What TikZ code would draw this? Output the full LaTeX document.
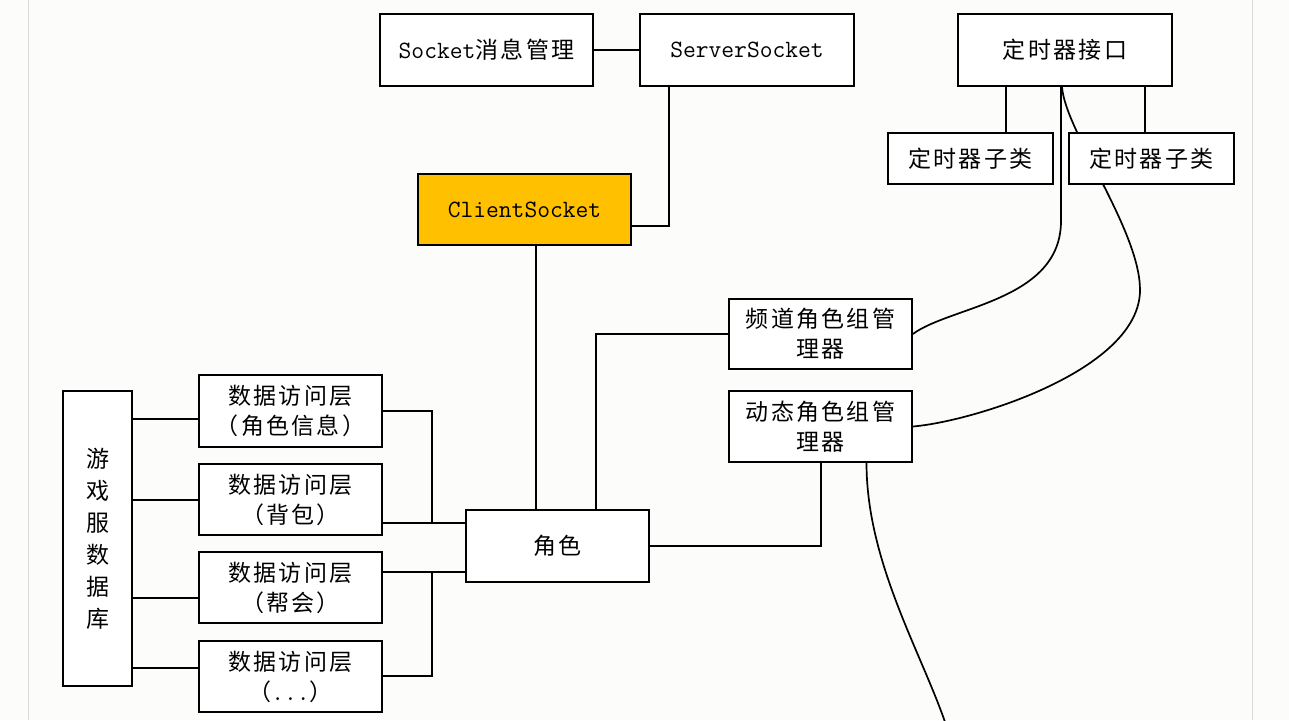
\documentclass[tikz,border=0pt]{standalone}
\usepackage{fontspec}
\setmainfont{Noto Sans CJK SC}[LetterSpace=10]
\setmonofont{Latin Modern Mono}[Scale=1.08]
\usetikzlibrary{backgrounds}
\definecolor{pagebg}{RGB}{252,252,250}
\definecolor{gold}{RGB}{255,192,0}
\begin{document}
\begin{tikzpicture}[x=1pt,y=-1pt,
    box/.style={draw,line width=1.7pt,fill=white,inner sep=0pt,align=center,
      font=\fontsize{23}{30}\selectfont},
    link/.style={line width=1.7pt}]
          \useasboundingbox (0,0) rectangle (1289,720);
          \node[box,minimum width=213pt,minimum height=72pt] (sm) at (486.5,50) {{\ttfamily Socket}消息管理};
          \node[box,minimum width=214pt,minimum height=72pt] (ss) at (747,50) {\ttfamily ServerSocket};
          \node[box,fill=gold,minimum width=213pt,minimum height=71pt] (cs) at (524.5,209.5) {\ttfamily ClientSocket};
          \node[box,minimum width=214pt,minimum height=72pt] (ti) at (1065,50) {定时器接口};
          \node[box,minimum width=165pt,minimum height=51pt] (t1) at (970.5,158.5) {定时器子类};
          \node[box,minimum width=165pt,minimum height=51pt] (t2) at (1151.5,158.5) {定时器子类};
          \node[box,minimum width=183pt,minimum height=70pt] (pd) at (820.5,334) {频道角色组管\\理器};
          \node[box,minimum width=183pt,minimum height=71pt] (dt) at (820.5,426.5) {动态角色组管\\理器};
          \node[box,minimum width=183pt,minimum height=72pt] (js) at (557.5,546) {角色};
          \node[box,minimum width=69pt,minimum height=295pt,font=\fontsize{23}{32}\selectfont] (db) at (97.5,538.5) {游\\戏\\服\\数\\据\\库};
          \node[box,minimum width=183pt,minimum height=72pt] (d1) at (290.5,411) {数据访问层\\（角色信息）};
          \node[box,minimum width=183pt,minimum height=71pt] (d2) at (290.5,499.5) {数据访问层\\（背包）};
          \node[box,minimum width=183pt,minimum height=71pt] (d3) at (290.5,587.5) {数据访问层\\（帮会）};
          \node[box,minimum width=183pt,minimum height=71pt] (d4) at (290.5,676.5) {数据访问层\\（{\ttfamily...}）};
          \coordinate (out) at (945,722);
          \coordinate (bend) at (1140,290);

          \begin{scope}[on background layer]
            \fill[pagebg] (0,0) rectangle (1289,720);
            \draw[gray!30,line width=1pt] (28,0) -- (28,720);
            \draw[gray!30,line width=1pt] (1252,0) -- (1252,720);
            \draw[link] ([xshift=-4pt]ti.south) -- ++(0,134) .. controls +(0,80) and +(38,-28) .. (pd.east);
            \draw[link] ([xshift=-3pt]ti.south) .. controls +(3,44) and +(0,-60) .. (bend)
              .. controls +(0,80) and +(60,-5) .. (dt.east);
          \end{scope}

          \draw[link] (sm) -- (ss);
          \draw[link] ([xshift=-78pt]ss.south) |- ([yshift=-16.5pt]cs.east);
          \draw[link] ([xshift=11.5pt]cs.south) -- ([xshift=11.5pt]cs.south |- js.north);
          \draw[link] ([xshift=38.5pt]js.north) |- (pd.west);
          \draw[link] (js.east) -| ([xshift=0.5pt]dt.south);
          \draw[link] ([xshift=46pt]dt.south) .. controls +(0,98) and +(-25,-72) .. (out);
          \draw[link] ([xshift=-59pt]ti.south) -- ([xshift=-59pt]ti.south |- t1.north);
          \draw[link] ([xshift=80pt]ti.south) -- ([xshift=80pt]ti.south |- t2.north);
          \draw[link] ([yshift=-8pt]d1.west) -- ([yshift=-8pt]d1.west -| db.east);
          \draw[link] ([yshift=-0.5pt]d2.west) -- ([yshift=-0.5pt]d2.west -| db.east);
          \draw[link] ([yshift=-10.5pt]d3.west) -- ([yshift=-10.5pt]d3.west -| db.east);
          \draw[link] ([yshift=8.5pt]d4.west) -- ([yshift=8.5pt]d4.west -| db.east);
          \draw[link] ([yshift=23pt]js.west) -- ([yshift=-23.5pt]d2.east);
          \draw[link] (d1.east) -| ([xshift=49pt,yshift=-23.5pt]d2.east);
          \draw[link] ([yshift=-26pt]js.west) -- ([yshift=15.5pt]d3.east);
          \draw[link] ([yshift=0.5pt]d4.east) -| ([xshift=49pt,yshift=15.5pt]d3.east);
        \end{tikzpicture}
\end{document}
